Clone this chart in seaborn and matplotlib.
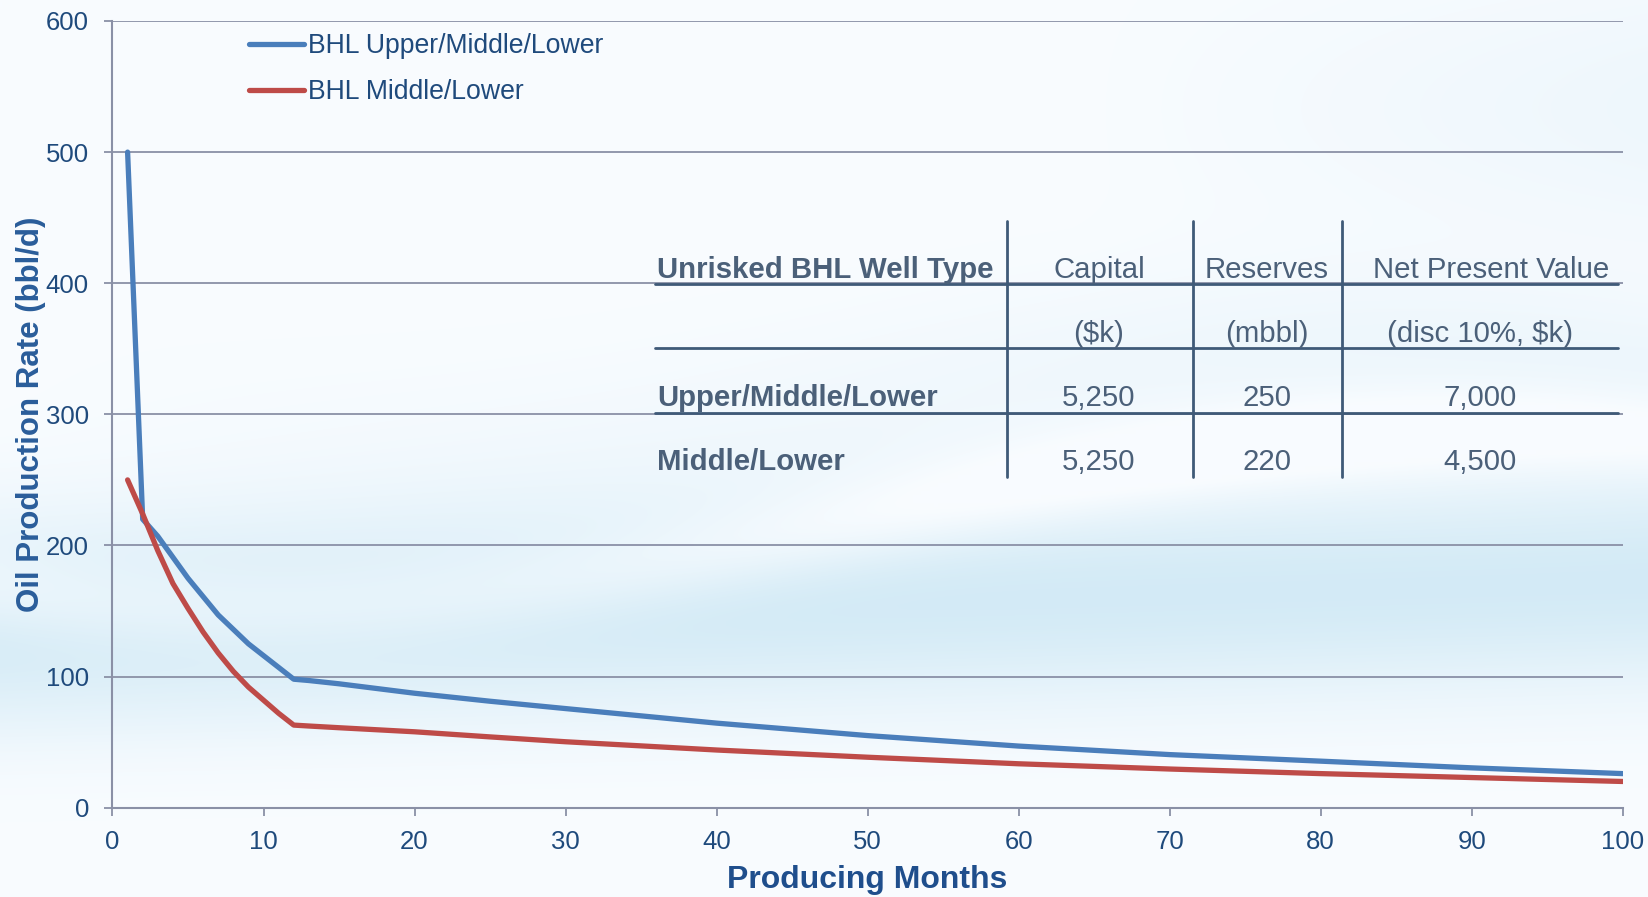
import numpy as np
import pandas as pd
import matplotlib
matplotlib.use("Agg")
import matplotlib.pyplot as plt
import seaborn as sns
from matplotlib.lines import Line2D

# Production profiles (bbl/d by producing month)
months = [1, 2, 3, 4, 5, 6, 7, 8, 9, 10, 11, 12, 13, 15, 20, 25, 30,
          40, 50, 60, 70, 80, 90, 100]
rate_upper = [500, 220, 207, 191, 175, 161, 147, 136, 125, 116, 107, 98, 97,
              94.5, 87.3, 81.2, 75.6, 64.5, 55, 47, 40.5, 35.5, 30.4, 26]
rate_middle = [250, 224, 196, 171, 152, 134, 118, 104, 92, 82, 72, 63, 62.3,
               61, 57.9, 54, 50.3, 44, 38.5, 33.5, 29.5, 26, 23, 20]
series_names = ["BHL Upper/Middle/Lower", "BHL Middle/Lower"]
series_colors = ["#4a7ebb", "#be4b48"]

x_ticks = [0, 10, 20, 30, 40, 50, 60, 70, 80, 90, 100]
y_ticks = [0, 100, 200, 300, 400, 500, 600]

# Economics table
table_header = ["Unrisked BHL Well Type", "Capital", "Reserves", "Net Present Value"]
table_units = ["", "($k)", "(mbbl)", "(disc 10%, $k)"]
well_types = ["Upper/Middle/Lower", "Middle/Lower"]
capital = ["5,250", "5,250"]
reserves = ["250", "220"]
npv = ["7,000", "4,500"]

df = pd.concat([
    pd.DataFrame({"month": months, "rate": rate_upper, "type": series_names[0]}),
    pd.DataFrame({"month": months, "rate": rate_middle, "type": series_names[1]}),
])

W, H = 1649, 897
sns.set_theme(style="white")
plt.rcParams["font.family"] = ["Liberation Sans", "DejaVu Sans"]

fig = plt.figure(figsize=(W / 100, H / 100), dpi=100)

# soft blue swoosh background
bg_ax = fig.add_axes([0, 0, 1, 1], zorder=-10)
yy, xx = np.mgrid[0:1:220j, 0:1:400j]
band = np.exp(-((yy - 0.70 + 0.05 * xx) / 0.12) ** 2)
band += 0.35 * np.exp(-((yy - 0.45 - 0.05 * np.sin(6 * xx)) / 0.10) ** 2) * xx
band += 0.4 * np.exp(-((yy - 0.12) / 0.15) ** 2) * np.clip(xx - 0.65, 0, 1) * 2
band -= 0.5 * np.exp(-((yy - 0.58 - 0.10 * np.sin(4 * xx + 1)) / 0.05) ** 2)
band = np.clip(band, 0, 1) * (1 - np.clip((yy - 0.82) / 0.15, 0, 1) * 0.8)
white = np.array([0.975, 0.988, 1.0])
blue = np.array([0.83, 0.92, 0.965])
img = white[None, None, :] * (1 - band[..., None]) + blue[None, None, :] * band[..., None]
bg_ax.imshow(img, aspect="auto", interpolation="bilinear", extent=[0, 1, 0, 1])
bg_ax.set_axis_off()

left, right, top, bottom = 112.5, 1622.7, 21, 807.7
ax = fig.add_axes([left / W, 1 - bottom / H, (right - left) / W, (bottom - top) / H])
ax.patch.set_alpha(0)

grid_color = "#8a90a6"
tick_color = "#1f4a7c"

for name, color in zip(series_names, series_colors):
    sns.lineplot(data=df[df["type"] == name], x="month", y="rate", color=color,
                 linewidth=3.8, label=name, ax=ax, sort=False, estimator=None,
                 solid_capstyle="round", solid_joinstyle="round", zorder=3)

ax.set_xlim(0, 100)
ax.set_ylim(0, 600)
ax.set_xticks(x_ticks)
ax.set_yticks(y_ticks)
ax.yaxis.grid(True, color=grid_color, linewidth=1.3)
ax.xaxis.grid(False)
ax.set_axisbelow(True)
for side in ["top", "right"]:
    ax.spines[side].set_visible(False)
for side in ["left", "bottom"]:
    ax.spines[side].set_color(grid_color)
    ax.spines[side].set_linewidth(1.5)
ax.tick_params(axis="both", which="major", direction="out", length=6, width=1.3,
               color=grid_color, labelcolor=tick_color, labelsize=18.5)
ax.tick_params(axis="x", pad=10)
ax.tick_params(axis="y", pad=11)
ax.tick_params(left=True, bottom=True)

ax.set_xlabel("Producing Months", fontsize=23, fontweight="bold", color="#1f4e8c",
              labelpad=8)
ax.set_ylabel("Oil Production Rate (bbl/d)", fontsize=22.5, fontweight="bold",
              color="#2a5d9a", labelpad=0)

leg = ax.legend(loc="upper left", bbox_to_anchor=(118 / (right - left), 1.008),
                frameon=False, fontsize=19.2, handlelength=2.05, handletextpad=0.15,
                labelspacing=0.75, borderaxespad=0.3)
for t in leg.get_texts():
    t.set_color(tick_color)

# table drawn in figure pixel positions
def fx(px):
    return px / W


def fy(py):
    return 1 - py / H


tcol = "#4b6079"
lcol = "#3f5a78"
col_x = [657, 1099, 1267, 1491]
val_x = [657, 1099, 1267, 1480]
row_y = [270, 334, 397.5, 461.5]
fs = 21.2

for i, txt in enumerate(table_header):
    fig.text(fx(col_x[i]), fy(row_y[0]), txt, fontsize=fs, color=tcol,
             fontweight="bold" if i == 0 else "normal",
             ha="left" if i == 0 else "center", va="center")
for i, txt in enumerate(table_units):
    if txt:
        fig.text(fx(val_x[i]), fy(row_y[1]), txt, fontsize=fs, color=tcol,
                 ha="center", va="center")
for r, (wt, cap, res, nv) in enumerate(zip(well_types, capital, reserves, npv)):
    yrow = fy(row_y[2 + r])
    fig.text(fx(val_x[0]), yrow, wt, fontsize=fs, color=tcol, fontweight="bold",
             ha="left", va="center")
    for i, v in zip([1, 2, 3], [cap, res, nv]):
        fig.text(fx(val_x[i]), yrow, v, fontsize=fs, color=tcol, ha="center",
                 va="center")

for py in [284.5, 348, 413]:
    fig.add_artist(Line2D([fx(655), fx(1618)], [fy(py), fy(py)], color=lcol,
                          linewidth=2.0))
for px in [1006.5, 1192.6, 1342]:
    fig.add_artist(Line2D([fx(px), fx(px)], [fy(221), fy(477)], color=lcol,
                          linewidth=2.0))

fig.savefig("out.png", dpi=100)
